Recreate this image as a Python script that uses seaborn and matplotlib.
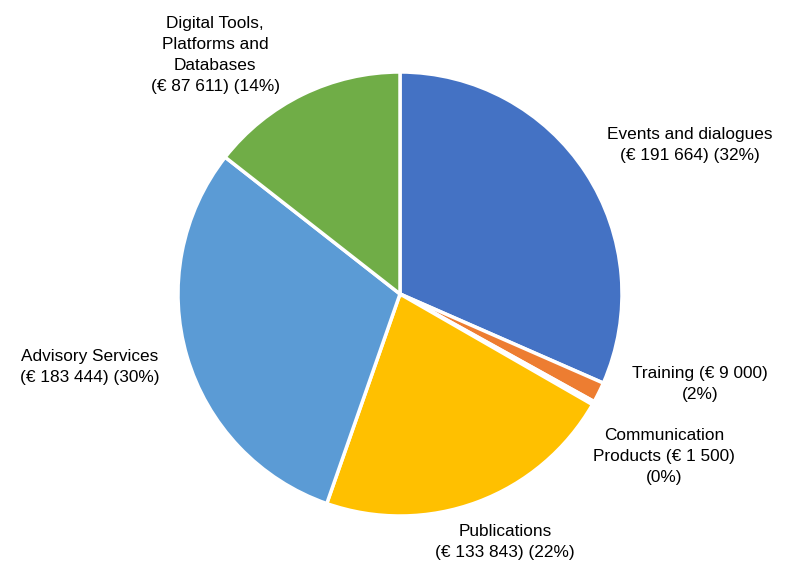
import matplotlib
matplotlib.use("Agg")
import matplotlib.pyplot as plt
import seaborn as sns

# data
categories = ["Events and dialogues", "Training", "Communication Products",
              "Publications", "Advisory Services", "Digital Tools, Platforms and Databases"]
amounts = [191664, 9000, 1500, 133843, 183444, 87611]
shares = [32, 2, 0, 22, 30, 14]  # percentages as printed on the chart
colors = ["#4472C4", "#ED7D31", "#A5A5A5", "#FFC000", "#5B9BD5", "#70AD47"]

# how each label is wrapped, and where it sits (pie radius = 1)
label_formats = [
    "Events and dialogues\n({amt}) ({pct})",
    "Training ({amt})\n({pct})",
    "Communication\nProducts ({amt})\n({pct})",
    "Publications\n({amt}) ({pct})",
    "Advisory Services\n({amt}) ({pct})",
    "Digital Tools,\nPlatforms and\nDatabases\n({amt}) ({pct})",
]
label_pos = [(1.306, 0.671), (1.351, -0.405), (1.189, -0.730),
             (0.473, -1.117), (-1.396, -0.329), (-0.833, 1.077)]

sns.set_style("white")
plt.rcParams["font.family"] = ["Liberation Sans", "DejaVu Sans"]

fig = plt.figure(figsize=(7.87, 5.63), dpi=100)
W, H = 787, 563
cx, cy, r = 400, 294, 222
ax = fig.add_axes([(cx - r) / W, (H - cy - r) / H, 2 * r / W, 2 * r / H])

ax.pie(amounts, colors=colors, startangle=90, counterclock=False, radius=1,
       wedgeprops=dict(edgecolor="white", linewidth=2.5))
ax.set_xlim(-1, 1)
ax.set_ylim(-1, 1)
ax.set_aspect("equal")
ax.axis("off")

for fmt, v, p, (x, y) in zip(label_formats, amounts, shares, label_pos):
    amt = "€ " + f"{v:,}".replace(",", " ")
    ax.text(x, y, fmt.format(amt=amt, pct=f"{p}%"), ha="center", va="center",
            fontsize=12.4, linespacing=1.5, color="#000000", clip_on=False)

fig.savefig("out.png", dpi=100)
